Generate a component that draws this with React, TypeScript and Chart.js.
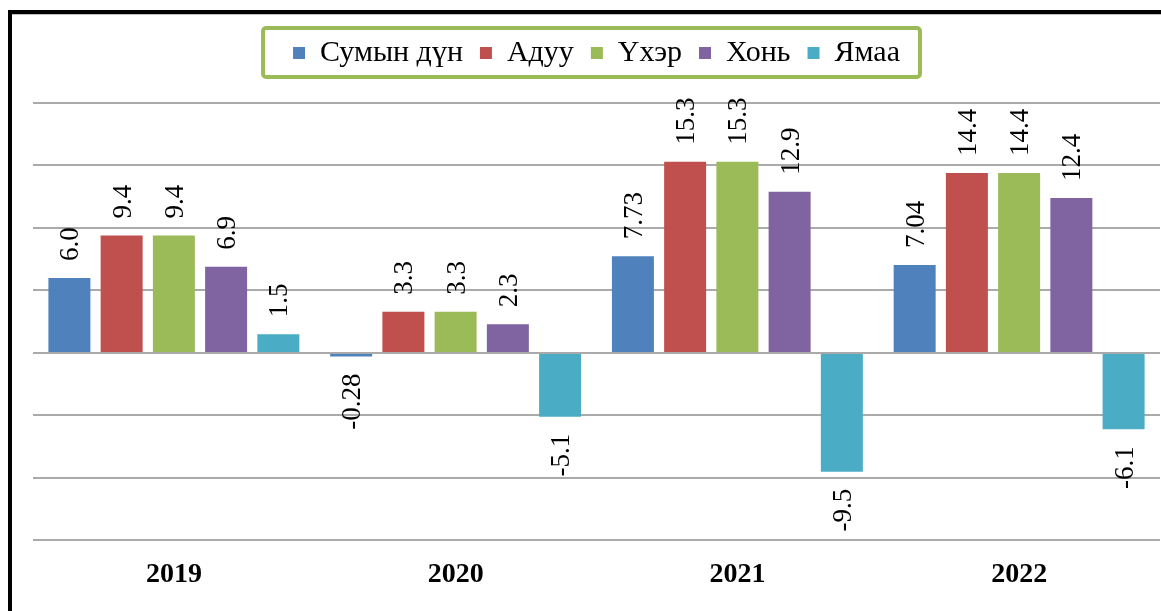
import React, { useEffect, useRef } from "react";
import { Chart, registerables } from "chart.js";

Chart.register(...registerables);

const categories = ["2019", "2020", "2021", "2022"];
const seriesNames = ["Сумын дүн", "Адуу", "Үхэр", "Хонь", "Ямаа"];
const seriesColors = ["#4F81BD", "#C0504D", "#9BBB59", "#8064A2", "#4BACC6"];

const sumynDun = [6.0, -0.28, 7.73, 7.04];
const aduu = [9.4, 3.3, 15.3, 14.4];
const ukher = [9.4, 3.3, 15.3, 14.4];
const khoni = [6.9, 2.3, 12.9, 12.4];
const yamaa = [1.5, -5.1, -9.5, -6.1];

const sumynDunLabels = ["6.0", "-0.28", "7.73", "7.04"];
const aduuLabels = ["9.4", "3.3", "15.3", "14.4"];
const ukherLabels = ["9.4", "3.3", "15.3", "14.4"];
const khoniLabels = ["6.9", "2.3", "12.9", "12.4"];
const yamaaLabels = ["1.5", "-5.1", "-9.5", "-6.1"];

const yMin = -15;
const yMax = 20;
const yStep = 5;

const seriesValues = [sumynDun, aduu, ukher, khoni, yamaa];
const seriesLabels = [sumynDunLabels, aduuLabels, ukherLabels, khoniLabels, yamaaLabels];

const FONT = "'Liberation Serif', 'Times New Roman', serif";

const valueLabelPlugin = {
  id: "valueLabels",
  afterDatasetsDraw(chart: any) {
    const ctx = chart.ctx;
    ctx.save();
    ctx.font = `27px ${FONT}`;
    ctx.fillStyle = "#000";
    ctx.textBaseline = "middle";
    chart.data.datasets.forEach((ds: any, i: number) => {
      const meta = chart.getDatasetMeta(i);
      meta.data.forEach((bar: any, j: number) => {
        const v = ds.data[j];
        const text = ds.valueLabels[j];
        ctx.save();
        ctx.translate(bar.x + 2, v >= 0 ? bar.y - 17 : bar.y + 17);
        ctx.rotate(-Math.PI / 2);
        ctx.textAlign = v >= 0 ? "left" : "right";
        ctx.fillText(text, 0, 0);
        ctx.restore();
      });
    });
    ctx.restore();
  },
};

const legendFramePlugin = {
  id: "legendFrame",
  afterDraw(chart: any) {
    const lg = chart.legend;
    if (!lg || !lg.legendHitBoxes || !lg.legendHitBoxes.length) return;
    const hb = lg.legendHitBoxes;
    const first = hb[0];
    const last = hb[hb.length - 1];
    const cy = first.top + first.height / 2;
    const x0 = first.left - 30;
    const x1 = last.left + last.width + 20;
    const ctx = chart.ctx;
    ctx.save();
    ctx.strokeStyle = "#9BBB59";
    ctx.lineWidth = 4;
    ctx.beginPath();
    if (ctx.roundRect) ctx.roundRect(x0, cy - 25, x1 - x0, 49, 3);
    else ctx.rect(x0, cy - 25, x1 - x0, 49);
    ctx.stroke();
    ctx.restore();
  },
};

export default function App() {
  const ref = useRef<HTMLCanvasElement>(null);

  useEffect(() => {
    if (!ref.current) return;
    Chart.defaults.color = "#000";
    const chart = new Chart(ref.current, {
      type: "bar",
      data: {
        labels: categories,
        datasets: seriesNames.map((name, i) => ({
          label: name,
          data: seriesValues[i],
          valueLabels: seriesLabels[i],
          backgroundColor: seriesColors[i],
          borderWidth: 0,
          categoryPercentage: 0.927,
          barPercentage: 0.804,
        })) as any,
      },
      options: {
        responsive: false,
        animation: false,
        layout: { padding: { left: 21, right: 1, top: 6, bottom: 1 } },
        plugins: {
          legend: {
            display: true,
            position: "top",
            labels: {
              boxWidth: 12,
              boxHeight: 12,
              padding: 17,
              color: "#000",
              font: { family: FONT, size: 30 },
            },
          },
          subtitle: {
            display: true,
            text: " ",
            position: "top",
            weight: 0,
            padding: 0,
            font: { size: 25, lineHeight: 1 },
          } as any,
          tooltip: { enabled: false },
        },
        scales: {
          x: {
            grid: { display: false, drawTicks: false },
            border: { display: false },
            ticks: {
              padding: 18,
              color: "#000",
              font: { family: FONT, size: 28, weight: "bold" },
            },
          },
          y: {
            min: yMin,
            max: yMax,
            ticks: { display: false, stepSize: yStep },
            grid: { color: "#aaaaaa", lineWidth: 2, drawTicks: false },
            border: { display: false },
          },
        },
      },
      plugins: [valueLabelPlugin, legendFramePlugin],
    });
    return () => chart.destroy();
  }, []);

  return (
    <div
      style={{
        position: "fixed",
        left: 8,
        top: 10,
        right: 0,
        bottom: 0,
        borderTop: "4px solid #000",
        borderLeft: "4px solid #000",
        background: "#fff",
        overflow: "hidden",
      }}
    >
      <div style={{ borderTop: "1px solid #c0c0c0" }}>
        <canvas ref={ref} width={1149} height={596} style={{ display: "block" }} />
      </div>
    </div>
  );
}
